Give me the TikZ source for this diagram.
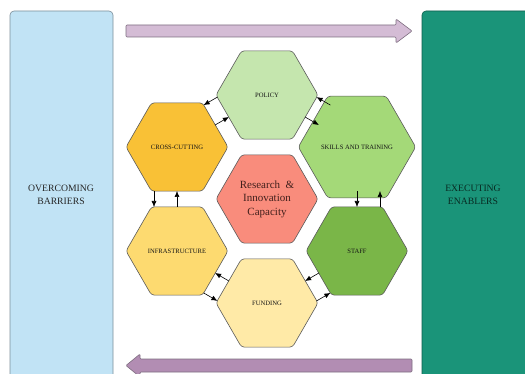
\documentclass[tikz,border=0pt]{standalone}
\usepackage{fontspec}
\setmainfont{Liberation Serif}
\usetikzlibrary{shapes.geometric,arrows.meta,calc}
\definecolor{leftfill}{HTML}{C1E3F5}
\definecolor{leftborder}{HTML}{7C8E99}
\definecolor{rightfill}{HTML}{1A9479}
\definecolor{rightborder}{HTML}{0F5E4C}
\definecolor{arrowtop}{HTML}{D4BCD5}
\definecolor{arrowbot}{HTML}{B28DB3}
\definecolor{arrowborder}{HTML}{7E6E80}
\definecolor{cpolicy}{HTML}{C5E6AE}
\definecolor{cskills}{HTML}{A4D978}
\definecolor{cstaff}{HTML}{7AB648}
\definecolor{cfunding}{HTML}{FFEAA7}
\definecolor{cinfra}{HTML}{FDDA70}
\definecolor{ccross}{HTML}{F9C136}
\definecolor{ccenter}{HTML}{F98C7C}
\definecolor{hexborder}{HTML}{5A5A5A}
\definecolor{labeltext}{HTML}{151515}
\definecolor{centertext}{HTML}{42201C}
\definecolor{righttext}{HTML}{082A22}
\begin{document}
\begin{tikzpicture}[x=1pt,y=-1pt,
  hexa/.style={regular polygon, regular polygon sides=6, minimum size=102pt,
    inner sep=0pt, outer sep=0pt, draw=hexborder, line width=0.6pt,
    rounded corners=3pt, font=\fontsize{6.6}{8}\selectfont, text=labeltext},
  link/.style={line width=0.6pt, -{Latex[length=6pt,width=5pt]}},
  panel/.style={rounded corners=4pt, line width=0.6pt},
  paneltext/.style={align=center, font=\fontsize{9.7}{13}\selectfont},
  bigarrow/.style={draw=arrowborder, line width=0.6pt, rounded corners=1pt}]
\useasboundingbox (0,0) rectangle (525,374);
\clip (0,0) rectangle (525,374);
% side panels
\draw[panel, fill=leftfill, draw=leftborder] (10,11) rectangle (113,400);
\draw[panel, fill=rightfill, draw=rightborder] (422,11) rectangle (560,400);
\node[paneltext, text=black!85] (over) at (61,195) {OVERCOMING\\BARRIERS};
\node[paneltext, text=righttext] (exec) at (473,195) {EXECUTING\\ENABLERS};
% big arrows
\draw[bigarrow, fill=arrowtop] (126,25) -- (396,25) -- (396,19) -- (412,31) -- (396,43) -- (396,37) -- (126,37) -- cycle;
\draw[bigarrow, fill=arrowbot] (412,359) -- (140,359) -- (140,354) -- (126,365.5) -- (140,377) -- (140,372) -- (412,372) -- cycle;
% hexagons
\node[hexa, fill=cpolicy] (policy) at (267,95) {POLICY};
\node[hexa, fill=cskills] (skills) at (357,147) {SKILLS AND TRAINING};
\node[hexa, fill=cstaff] (staff) at (357,251) {STAFF};
\node[hexa, fill=cfunding] (funding) at (267,303) {FUNDING};
\node[hexa, fill=cinfra] (infra) at (177,251) {INFRASTRUCTURE};
\node[hexa, fill=ccross] (cross) at (177,147) {CROSS-CUTTING};
\node[hexa, fill=ccenter, font=\fontsize{11}{13.5}\selectfont, text=centertext, align=center] (core) at (267,199) {Research~~\&\\Innovation\\Capacity};
% links: clockwise through edge middles
\draw[link] ($(policy)+(38.1,22)$) -- ($(skills)+(-38.1,-22)$);
\draw[link] ($(skills)+(0,44)$) -- ($(staff)+(0,-44)$);
\draw[link] ($(staff)+(-38.1,22)$) -- ($(funding)+(38.1,-22)$);
\draw[link] ($(funding)+(-38.1,-22)$) -- ($(infra)+(38.1,22)$);
\draw[link] ($(infra)+(0,-44)$) -- ($(cross)+(0,44)$);
\draw[link] ($(cross)+(38.1,-22)$) -- ($(policy)+(-38.1,22)$);
% links: anticlockwise on the outer side
\draw[link] ($(skills)+(-26.6,-41.9)$) -- ($(policy)+(49.6,2.1)$);
\draw[link] ($(staff)+(23,-44)$) -- ($(skills)+(23,44)$);
\draw[link] ($(funding)+(49.6,-2.1)$) -- ($(staff)+(-26.6,41.9)$);
\draw[link] ($(infra)+(26.6,41.9)$) -- ($(funding)+(-49.6,-2.1)$);
\draw[link] ($(cross)+(-23,44)$) -- ($(infra)+(-23,-44)$);
\draw[link] ($(policy)+(-49.6,2.1)$) -- ($(cross)+(26.6,-41.9)$);
\end{tikzpicture}
\end{document}
